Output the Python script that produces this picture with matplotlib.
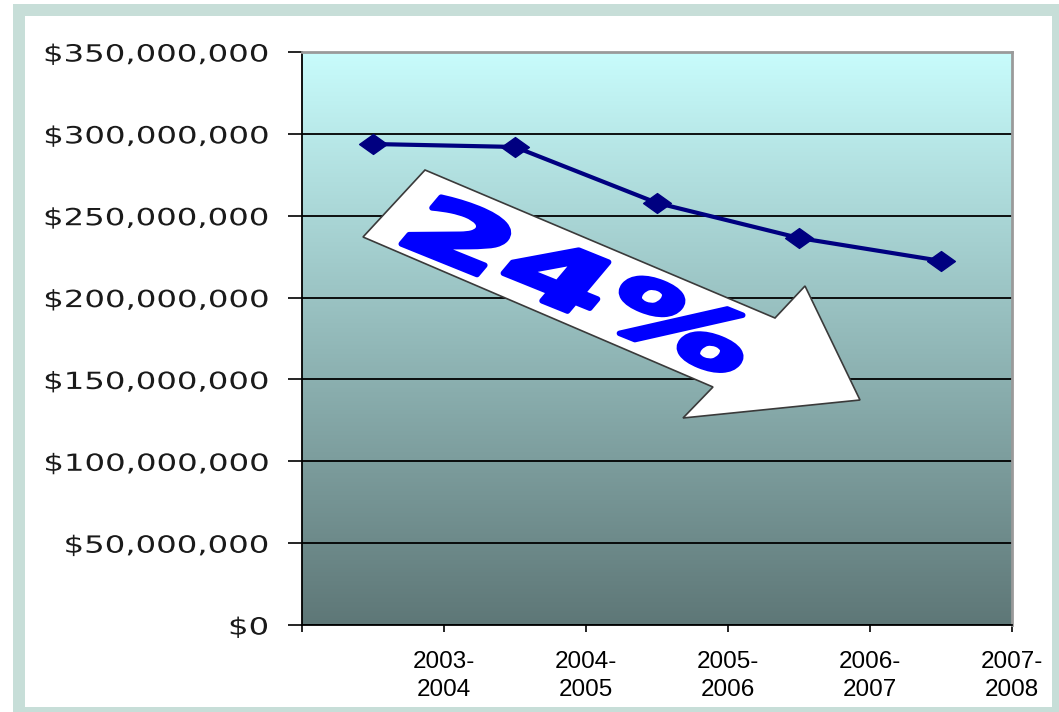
import numpy as np
import matplotlib
matplotlib.use('Agg')
import matplotlib.pyplot as plt
from matplotlib.patches import Polygon, Rectangle
from matplotlib.path import Path
from matplotlib.transforms import Affine2D
from matplotlib.patheffects import AbstractPathEffect

# data
years = ['2003-\n2004', '2004-\n2005', '2005-\n2006', '2006-\n2007', '2007-\n2008']
spending = [293.8e6, 292.0e6, 257.8e6, 236.4e6, 222.4e6]
yticks = [0, 50e6, 100e6, 150e6, 200e6, 250e6, 300e6, 350e6]
drop_label = '24%'

# arrow outline, picture pixels (x right, y down)
arrow_px = [(425, 170), (775, 318), (805, 286), (860, 400),
            (683, 418), (713, 387), (363, 237)]

W, H = 1059, 712


class Stretch(AbstractPathEffect):
    # draws the glyph path widened / slanted (the chart uses wide text)
    def __init__(self, sx=1.0, sy=1.0, skew=0.0, anchor='center', bold=0.0):
        super().__init__()
        self.sx, self.sy, self.skew, self.anchor = sx, sy, skew, anchor
        self.bold = bold

    def draw_path(self, renderer, gc, tpath, affine, rgbFace=None):
        v = tpath.vertices
        if self.anchor == 'right':
            px = v[:, 0].max()
        elif self.anchor == 'left':
            px = v[:, 0].min()
        else:
            px = (v[:, 0].min() + v[:, 0].max()) / 2
        py = (v[:, 1].min() + v[:, 1].max()) / 2
        t = (Affine2D().translate(-px, -py).skew_deg(self.skew, 0)
             .scale(self.sx, self.sy).translate(px, py)) + affine
        gc0 = renderer.new_gc()
        gc0.copy_properties(gc)
        gc0.set_linewidth(self.bold)
        gc0.set_joinstyle('round')
        renderer.draw_path(gc0, tpath, t, rgbFace)
        gc0.restore()


fig = plt.figure(figsize=(W / 100, H / 100), dpi=100)
fig.patch.set_facecolor('white')

# teal frame
fig.patches.append(Rectangle((13 / W, 0), (W - 13) / W, 1 - 4 / H,
                             transform=fig.transFigure, facecolor='#c7ded8',
                             edgecolor='none', zorder=-2))
fig.patches.append(Rectangle((25 / W, 1 - 707 / H), (1052 - 25) / W, (707 - 16) / H,
                             transform=fig.transFigure, facecolor='white',
                             edgecolor='none', zorder=-1))

ax = fig.add_axes([302 / W, 1 - 625 / H, 710 / W, 573 / H])

# gradient background
top = np.array([200, 252, 252]) / 255
bot = np.array([94, 119, 119]) / 255
t = np.linspace(0, 1, 256)[:, None, None]
grad = bot + t * (top - bot)
ax.imshow(grad, extent=[0, 5, 0, 3.5e8], origin='lower', aspect='auto', zorder=0)

x = np.arange(len(years)) + 0.5
diamond = Path([(-1.4, 0), (0, 1), (1.4, 0), (0, -1), (-1.4, 0)],
               [Path.MOVETO, Path.LINETO, Path.LINETO, Path.LINETO, Path.CLOSEPOLY])
ax.plot(x, spending, color='#000080', lw=3, marker=diamond, markersize=20,
        zorder=4)

ax.set_xlim(0, 5)
ax.set_ylim(0, 3.5e8)
ax.set_axisbelow(True)
ax.yaxis.grid(True, color='black', lw=1.3)

ax.set_yticks(yticks)
ax.set_yticklabels(['${:,.0f}'.format(v) for v in yticks])
ax.set_xticks(range(0, 6))
ax.set_xticklabels([''] + years)

ax.tick_params(axis='y', length=10, width=1.2, pad=14, labelsize=17,
               labelcolor='#1a1a1a')
ax.tick_params(axis='x', length=5, width=1.2, pad=14, labelsize=17.5)
for lab in ax.get_yticklabels():
    lab.set_fontfamily('DejaVu Sans')
    lab.set_path_effects([Stretch(sx=1.37, anchor='right')])
for lab in ax.get_xticklabels():
    lab.set_fontfamily('Liberation Sans')
    lab.set_linespacing(1.35)

for s in ['top', 'right']:
    ax.spines[s].set_color('#9a9a9a')
    ax.spines[s].set_linewidth(2)
for s in ['left', 'bottom']:
    ax.spines[s].set_color('black')
    ax.spines[s].set_linewidth(1.3)

# big down arrow with the percent drop
arr = np.array(arrow_px, dtype=float)
arr[:, 0] = arr[:, 0] / W
arr[:, 1] = 1 - arr[:, 1] / H
ax.add_patch(Polygon(arr, closed=True, facecolor='white', edgecolor='#3a3a3a',
                     lw=1.2, transform=fig.transFigure, zorder=2))
ax.text(578 / W, 1 - 290 / H, drop_label, transform=fig.transFigure,
        fontsize=60, fontweight='bold', family='DejaVu Sans', color='#0000ff',
        rotation=-22, rotation_mode='anchor', ha='center', va='center', zorder=3,
        path_effects=[Stretch(sx=1.85, skew=10, bold=4)])

fig.savefig('out.png', dpi=100)
